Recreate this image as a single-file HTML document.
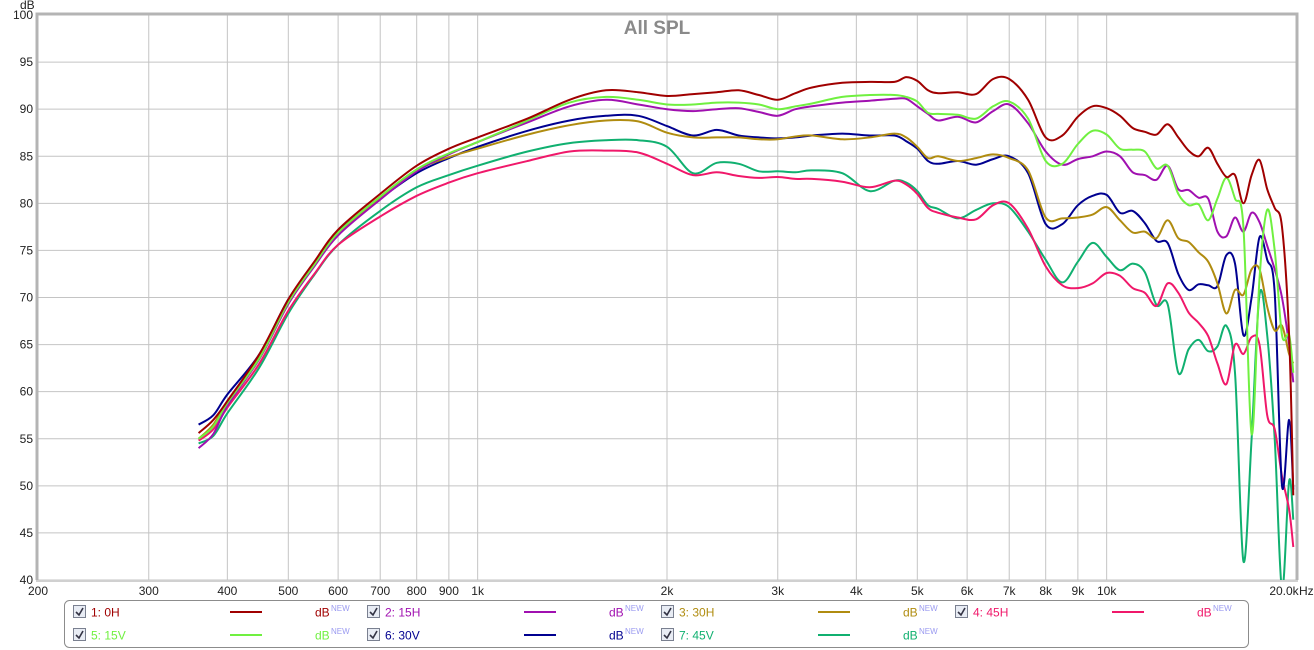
<!DOCTYPE html>
<html><head><meta charset="utf-8"><style>
body{margin:0;background:#fff;font-family:"Liberation Sans",sans-serif}
#wrap{position:relative;width:1314px;height:650px;overflow:hidden}
svg text{font-family:"Liberation Sans",sans-serif}
</style></head><body>
<div id="wrap">
<svg id="chart" width="1314" height="650"></svg>
</div>
<script>
const freqs=[360,380,400,450,500,550,600,700,800,900,1000,1200,1400,1600,1800,2000,2200,2400,2600,2800,3000,3200,3400,3800,4200,4600,4800,5000,5200,5400,5800,6200,6600,7000,7500,8000,8500,9000,9500,10000,10500,11000,11500,12000,12500,13000,13500,14000,14500,15000,15500,16000,16500,17000,17500,18000,18500,19000,19500,19800];
const s0H=[55.6,57,59,64,69.8,73.8,77.2,81,84,85.8,87,89,91,92,91.8,91.4,91.6,91.8,92,91.5,91,91.7,92.3,92.8,92.9,92.9,93.4,93,92,91.7,91.8,91.6,93.2,93.2,91,87,87.2,89.2,90.3,90.1,89.3,88,87.6,87.3,88.4,87,85.6,85,85.9,84.2,82.8,83,80,83,84.6,81.5,79.5,77.5,66,49];
const s15H=[54,55.5,58.5,63.5,69.3,73.3,76.6,80.4,83.4,85.2,86.5,88.6,90.3,91,90.5,90,89.8,90,90.1,89.7,89.3,90,90.3,90.7,90.9,91.1,91.1,90.3,89.5,88.8,89.2,88.6,89.8,90.5,88.5,85.5,84.1,84.7,85,85.5,85,83.3,83,82.5,84,81.5,81.4,80.6,80.5,77,76.5,78.5,77,79,78,75.5,73,70,65,61];
const s30H=[55,56.5,59,63.8,69.6,73.5,76.8,80.6,83.5,84.9,85.8,87.3,88.3,88.8,88.7,87.5,87,87,87,86.8,86.8,87.1,87.2,86.8,87,87.4,87,86,84.8,85,84.5,84.8,85.2,84.8,83.5,78.5,78.4,78.5,78.8,79.6,78.2,76.9,77,76.3,78.2,76.3,75.9,74.8,73.8,71.5,68.3,70.8,70.3,73,73,69,66.5,67,64,63];
const s45H=[54.8,56,58.3,63,68.6,72.5,75.6,78.6,80.8,82.2,83.2,84.5,85.5,85.6,85.4,84.2,83,83.3,82.9,82.7,82.8,82.6,82.6,82.3,81.7,82.4,82,81,79.5,79,78.5,78.3,79.8,80,77.3,73.3,71.3,71,71.5,72.6,72.3,71,70.5,69.1,71.5,70.5,68.4,67.3,65.9,63,60.8,65,64,65.8,65,57.5,56,51,47.5,43.5];
const s15V=[55,56.3,58.8,63.6,69.5,73.5,76.9,80.7,83.6,85.3,86.5,88.8,90.7,91.3,91,90.5,90.5,90.7,90.7,90.5,90,90.3,90.6,91.3,91.5,91.5,91.3,90.8,89.6,89.5,89.4,89,90.3,90.8,89,84.5,84.2,86.3,87.7,87.3,85.8,85.7,85.5,83.7,84,81,79.8,79.9,78.2,80.5,82.7,80.5,77.5,55.5,72,79.3,75,66,66,62];
const s30V=[56.5,57.5,59.7,64,69.8,73.6,77,80.5,83.2,84.8,86,87.7,88.8,89.3,89.3,88.2,87.2,87.8,87.2,87,86.9,87,87.2,87.4,87.2,87.2,86.6,85.8,84.5,84.2,84.5,84.1,84.7,85,83.2,77.8,77.8,79.8,80.8,80.9,79,79.2,77.9,76,75.8,72.5,70.8,71.4,71.3,71.2,74.5,73.6,66,70,76.4,74,70.5,50,57,49.6];
const s45V=[54.5,55.3,57.7,62.6,68.3,72.4,75.6,79.2,81.7,83,84,85.5,86.4,86.7,86.7,86,83.2,84.3,84.2,83.4,83.4,83.3,83.5,83.2,81.3,82.4,82.2,81.3,79.8,79.4,78.4,79.3,80,79.6,77,74,71.6,73.8,75.8,74.3,72.9,73.6,72.7,69.2,69.3,62,64.5,65.5,64.3,64.8,67,62,42,55,70.3,66,55,39,50.5,46.4];
const yTicks=[40,45,50,55,60,65,70,75,80,85,90,95,100];
const xTicks=[200,300,400,500,600,700,800,900,1000,2000,3000,4000,5000,6000,7000,8000,9000,10000,20000];
const xTickLabels=["200","300","400","500","600","700","800","900","1k","2k","3k","4k","5k","6k","7k","8k","9k","10k","20.0k"];
const seriesNames=["1: 0H","2: 15H","3: 30H","4: 45H","5: 15V","6: 30V","7: 45V"];
const seriesData=[s0H,s15H,s30H,s45H,s15V,s30V,s45V];
const seriesColors=["#a00000","#a010b0","#b08c10","#f0186a","#70f040","#000090","#10b070"];
const seriesKeys=["0h","15h","30h","45h","15v","30v","45v"];

const L=38,T=15,R=1296,B=580;
const xs=f=>L+(R-L)*Math.log10(f/200)/2;
const ys=d=>B-(B-T)*(d-40)/60;
const NS="http://www.w3.org/2000/svg";
const svg=document.getElementById('chart');
function mk(tag,attrs,parent){const e=document.createElementNS(NS,tag);for(const k in attrs)e.setAttribute(k,attrs[k]);(parent||svg).appendChild(e);return e;}

const defs=mk('defs',{});
const cp=mk('clipPath',{id:'pc'},defs);mk('rect',{x:L,y:T,width:R-L,height:B-T},cp);

const grid=mk('g',{});


yTicks.forEach(v=>{
  const l=mk('line',{x1:L,x2:R,y1:ys(v),y2:ys(v),stroke:'#c4c4c4','stroke-width':1},grid);
  
  
  const t=mk('text',{x:33,y:ys(v)+4,'text-anchor':'end','font-size':12,fill:'#222'});
  t.textContent=v;
  
  
});
xTicks.forEach((f,i)=>{
  const l=mk('line',{x1:xs(f),x2:xs(f),y1:T,y2:B,stroke:'#c4c4c4','stroke-width':1},grid);
  
  
  const t=mk('text',{x:i==xTicks.length-1?xs(f)-12:xs(f),y:595,'text-anchor':'middle','font-size':12,fill:'#222'});
  t.textContent=xTickLabels[i];
  
  
});
const hz=mk('text',{x:1299,y:595,'font-size':12,fill:'#222'});hz.textContent='Hz';


const db=mk('text',{x:20,y:9,'font-size':12,fill:'#222'});db.textContent='dB';



// frame
const fr=mk('path',{d:`M${L-1},${B} L${L-1},${T-1} L${R+1},${T-1} L${R+1},${B}`,fill:'none',stroke:'#b4b4b4','stroke-width':3});


const fb=mk('line',{x1:L-2,x2:R+2,y1:B+1,y2:B+1,stroke:'#d0d0d0','stroke-width':2});



const title=mk('text',{x:657,y:34,'text-anchor':'middle','font-size':19,'font-weight':'bold',fill:'#8a8a8a'});
title.textContent='All SPL';



function smooth(pts){
  let d=`M${pts[0][0].toFixed(1)},${pts[0][1].toFixed(1)}`;
  for(let i=0;i<pts.length-1;i++){
    const p0=pts[i-1]||pts[i],p1=pts[i],p2=pts[i+1],p3=pts[i+2]||p2;
    const c1=[p1[0]+(p2[0]-p0[0])/6,p1[1]+(p2[1]-p0[1])/6];
    const c2=[p2[0]-(p3[0]-p1[0])/6,p2[1]-(p3[1]-p1[1])/6];
    d+=` C${c1[0].toFixed(1)},${c1[1].toFixed(1)} ${c2[0].toFixed(1)},${c2[1].toFixed(1)} ${p2[0].toFixed(1)},${p2[1].toFixed(1)}`;
  }
  return d;
}
const lines=mk('g',{'clip-path':'url(#pc)'});


[6,3,5,2,1,4,0].forEach(i=>{
  const pts=freqs.map((f,j)=>[xs(f),ys(seriesData[i][j])]);
  const p=mk('path',{d:smooth(pts),fill:'none',stroke:seriesColors[i],'stroke-width':2,'stroke-linejoin':'round'},lines);
  
  
});

// legend
const lg=mk('g',{});


mk('rect',{x:64.5,y:600.5,width:1184,height:47,rx:5,fill:'#fff',stroke:'#8c8c8c','stroke-width':1},lg);
seriesNames.forEach((n,i)=>{
  const col=i%4,row=Math.floor(i/4);
  const x0=73+col*294,yc=612+row*23;
  const e=mk('g',{},lg);
  
  
  const cb=mk('g',{},e);
  
  
  mk('rect',{x:x0+0.5,y:yc-6.5,width:12,height:12,fill:'#e8ecf4',stroke:'#7a8090'},cb);
  mk('path',{d:`M${x0+3},${yc} L${x0+6},${yc+3} L${x0+10},${yc-4}`,fill:'none',stroke:'#334','stroke-width':1.6},cb);
  const t=mk('text',{x:x0+18,y:yc+4.5,'font-size':12,fill:seriesColors[i]},e);t.textContent=n;
  mk('line',{x1:x0+157,x2:x0+189,y1:yc,y2:yc,stroke:seriesColors[i],'stroke-width':2},e);
  const u=mk('text',{x:x0+242,y:yc+4.5,'font-size':12,fill:seriesColors[i]},e);u.textContent='dB';
  const s=mk('text',{x:x0+258,y:yc-1,'font-size':8,fill:'#9a9af0'},e);s.textContent='NEW';
});
</script>
</body></html>
